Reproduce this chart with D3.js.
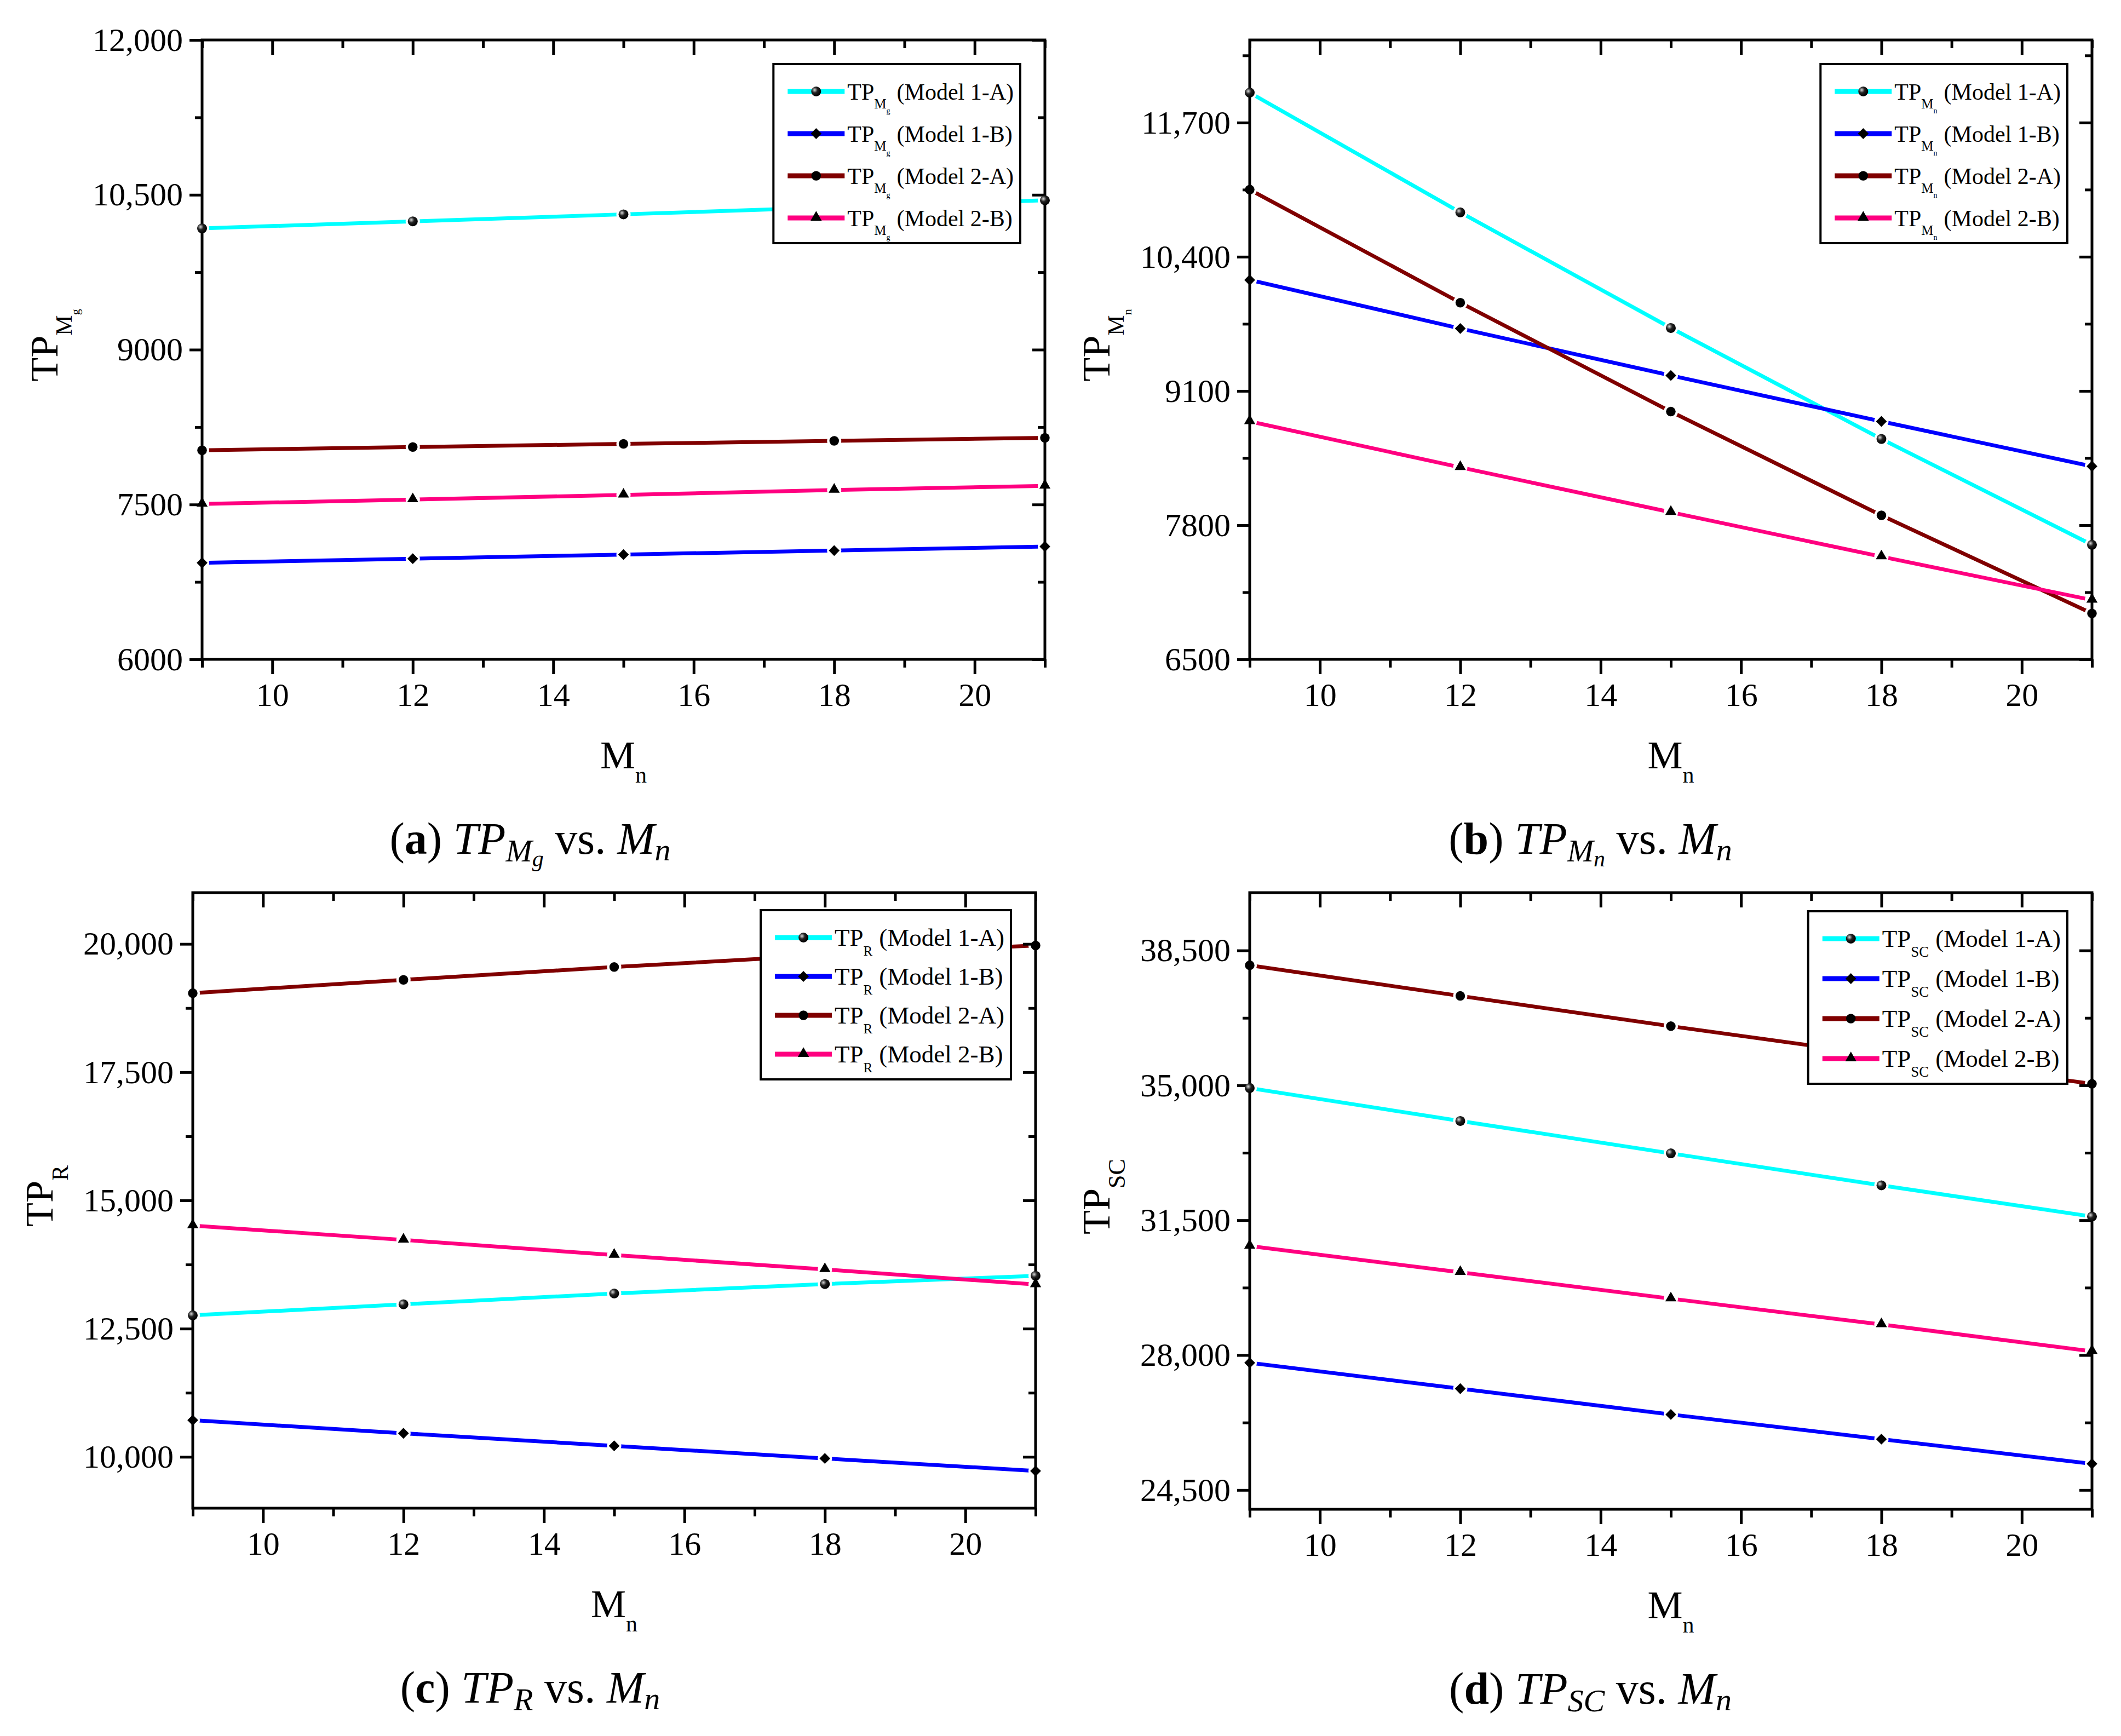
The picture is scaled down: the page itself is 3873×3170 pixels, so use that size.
<!DOCTYPE html>
<html>
<head>
<meta charset="utf-8">
<script src="https://cdn.jsdelivr.net/npm/d3@7"></script>
<style>
  body { margin: 0; background: #fff; }
  text { font-family: "Liberation Serif", "Times New Roman", serif; fill: #000; }
</style>
</head>
<body>
<div id="chart"></div>
<script>
// x values (M_n)
var mn = [9, 12, 15, 18, 21];
var models = ['Model 1-A', 'Model 1-B', 'Model 2-A', 'Model 2-B'];
var colors = ['#00ffff', '#0000ff', '#800000', '#ff0080'];
var markerTypes = ['sphere', 'diamond', 'circle', 'triangle'];

// (a) TP_Mg
var tpMg1A = [10175, 10243, 10311, 10379, 10447];
var tpMg1B = [6935, 6975, 7015, 7054, 7093];
var tpMg2A = [8025, 8057, 8087, 8117, 8146];
var tpMg2B = [7505, 7548, 7593, 7640, 7680];
var tpMgTicks = [6000, 7500, 9000, 10500, 12000];

// (b) TP_Mn
var tpMn1A = [11990, 10830, 9710, 8635, 7610];
var tpMn1B = [10175, 9705, 9250, 8805, 8370];
var tpMn2A = [11050, 9955, 8900, 7895, 6945];
var tpMn2B = [8805, 8360, 7925, 7495, 7075];
var tpMnTicks = [6500, 7800, 9100, 10400, 11700];

// (c) TP_R
var tpR1A = [12760, 12975, 13185, 13370, 13530];
var tpR1B = [10715, 10460, 10215, 9970, 9725];
var tpR2A = [19040, 19300, 19550, 19780, 19970];
var tpR2B = [14510, 14230, 13935, 13655, 13360];
var tpRTicks = [10000, 12500, 15000, 17500, 20000];

// (d) TP_SC
var tpSC1A = [34930, 34075, 33235, 32405, 31595];
var tpSC1B = [27800, 27130, 26460, 25820, 25180];
var tpSC2A = [38115, 37320, 36535, 35780, 35040];
var tpSC2B = [30830, 30150, 29465, 28795, 28100];
var tpSCTicks = [24500, 28000, 31500, 35000, 38500];

var xMajor = [10, 12, 14, 16, 18, 20];
var xMinor = [9, 11, 13, 15, 17, 19, 21];

var width = 3873,
    height = 3170;

var panels = [
    { tag: 'a', subs: ['M', 'g'], series: [tpMg1A, tpMg1B, tpMg2A, tpMg2B], domain: [6000, 12000], ticks: tpMgTicks,
      left: 369, top: 73, right: 1908, bottom: 1204, col: 968, titleDx: -264, legTop: 44, rowStep: 77, legFont: 42 },
    { tag: 'b', subs: ['M', 'n'], series: [tpMn1A, tpMn1B, tpMn2A, tpMn2B], domain: [6500, 12500], ticks: tpMnTicks,
      left: 2282, top: 73, right: 3820, bottom: 1204, col: 2904, titleDx: -256, legTop: 44, rowStep: 77, legFont: 42 },
    { tag: 'c', subs: ['R'], series: [tpR1A, tpR1B, tpR2A, tpR2B], domain: [9000, 21000], ticks: tpRTicks,
      left: 352, top: 1630, right: 1891, bottom: 2754, col: 968, titleDx: -256, legTop: 32, rowStep: 71, legFont: 45 },
    { tag: 'd', subs: ['SC'], series: [tpSC1A, tpSC1B, tpSC2A, tpSC2B], domain: [24000, 40000], ticks: tpSCTicks,
      left: 2282, top: 1630, right: 3820, bottom: 2756, col: 2904, titleDx: -256, legTop: 34, rowStep: 73, legFont: 45 }
];

var svg = d3.select('#chart')
    .append('svg')
    .attr('width', width)
    .attr('height', height);

var defs = svg.append('defs');
var grad = defs.append('radialGradient')
    .attr('id', 'sphere')
    .attr('cx', '35%').attr('cy', '35%').attr('r', '65%');
grad.append('stop').attr('offset', '0%').attr('stop-color', '#d8d8d8');
grad.append('stop').attr('offset', '45%').attr('stop-color', '#222');
grad.append('stop').attr('offset', '100%').attr('stop-color', '#000');

var fmt = function (v) {
    return v >= 10000 ? d3.format(',')(v) : String(v);
};

var drawMarker = function (g, type, cx, cy) {
    if (type === 'sphere') {
        g.append('circle').attr('cx', cx).attr('cy', cy).attr('r', 9).attr('fill', 'url(#sphere)');
        return;
    }
    var sym = type === 'diamond' ? d3.symbolDiamond2 : type === 'triangle' ? d3.symbolTriangle : d3.symbolCircle;
    var size = type === 'diamond' ? 250 : type === 'triangle' ? 180 : 240;
    g.append('path')
        .attr('d', d3.symbol().type(sym).size(size)())
        .attr('transform', 'translate(' + cx + ',' + (type === 'triangle' ? cy - 1 : cy) + ')')
        .attr('fill', '#000');
};

// appends TP with nested subscripts to a text element
var tpText = function (t, subs, sizes, shifts) {
    t.append('tspan').text('TP');
    var total = 0;
    subs.forEach(function (s, i) {
        total += shifts[i];
        t.append('tspan').attr('font-size', sizes[i]).attr('dy', shifts[i]).text(s);
    });
    return total;
};

var drawPanel = function (p) {
    var g = svg.append('g');

    var x = d3.scaleLinear().domain([9, 21]).range([p.left, p.right]);
    var y = d3.scaleLinear().domain(p.domain).range([p.bottom, p.top]);

    var line = d3.line()
        .x(function (d, i) { return x(mn[i]); })
        .y(function (d) { return y(d); });

    // lines with small gaps around the markers
    p.series.forEach(function (vals, k) {
        g.append('path')
            .datum(vals)
            .attr('d', line)
            .attr('fill', 'none')
            .attr('stroke', colors[k])
            .attr('stroke-width', 7);
        g.selectAll(null)
            .data(vals)
            .enter()
            .append('circle')
            .attr('cx', function (d, i) { return x(mn[i]); })
            .attr('cy', function (d) { return y(d); })
            .attr('r', 13)
            .attr('fill', '#fff');
    });

    // axes
    var step = p.ticks[1] - p.ticks[0];
    var yMinor = d3.range(p.ticks[0] - step / 2, p.domain[1] + 1, step)
        .filter(function (v) { return v >= p.domain[0] && v <= p.domain[1]; });

    var styleAxis = function (sel) {
        sel.select('.domain').remove();
        sel.selectAll('line').attr('stroke', '#000').attr('stroke-width', 5);
        sel.selectAll('text').attr('font-size', 60).attr('fill', '#000')
            .attr('font-family', '"Liberation Serif", "Times New Roman", serif');
    };

    g.append('g').attr('transform', 'translate(0,' + p.bottom + ')')
        .call(d3.axisBottom(x).tickValues(xMajor).tickSize(27).tickPadding(15).tickFormat(d3.format('d')))
        .call(styleAxis);
    g.append('g').attr('transform', 'translate(0,' + p.bottom + ')')
        .call(d3.axisBottom(x).tickValues(xMinor).tickSize(15).tickFormat(''))
        .call(styleAxis);
    g.append('g').attr('transform', 'translate(0,' + p.top + ')')
        .call(d3.axisTop(x).tickValues(xMajor).tickSize(-27).tickFormat(''))
        .call(styleAxis);
    g.append('g').attr('transform', 'translate(0,' + p.top + ')')
        .call(d3.axisTop(x).tickValues(xMinor).tickSize(-15).tickFormat(''))
        .call(styleAxis);

    g.append('g').attr('transform', 'translate(' + p.left + ',0)')
        .call(d3.axisLeft(y).tickValues(p.ticks).tickSize(23).tickPadding(12).tickFormat(fmt))
        .call(styleAxis);
    g.append('g').attr('transform', 'translate(' + p.left + ',0)')
        .call(d3.axisLeft(y).tickValues(yMinor).tickSize(13).tickFormat(''))
        .call(styleAxis);
    g.append('g').attr('transform', 'translate(' + p.right + ',0)')
        .call(d3.axisRight(y).tickValues(p.ticks).tickSize(-23).tickFormat(''))
        .call(styleAxis);
    g.append('g').attr('transform', 'translate(' + p.right + ',0)')
        .call(d3.axisRight(y).tickValues(yMinor).tickSize(-13).tickFormat(''))
        .call(styleAxis);

    g.append('rect')
        .attr('x', p.left).attr('y', p.top)
        .attr('width', p.right - p.left).attr('height', p.bottom - p.top)
        .attr('fill', 'none').attr('stroke', '#000').attr('stroke-width', 5);

    // markers
    p.series.forEach(function (vals, k) {
        vals.forEach(function (v, i) {
            drawMarker(g, markerTypes[k], x(mn[i]), y(v));
        });
    });

    // legend
    var lg = g.append('g');
    var box = lg.append('rect').attr('fill', '#fff').attr('stroke', '#000').attr('stroke-width', 4);
    var rows = lg.append('g');
    var subSizes = p.subs.length === 2 ? [25, 14] : [p.subs[0] === 'SC' ? 27 : 25];
    var subShifts = p.subs.length === 2 ? [16, 9] : [18];
    models.forEach(function (m, i) {
        var yy = i * p.rowStep;
        rows.append('line')
            .attr('x1', 0).attr('x2', 104).attr('y1', yy).attr('y2', yy)
            .attr('stroke', colors[i]).attr('stroke-width', 9);
        drawMarker(rows, markerTypes[i], 52, yy);
        var t = rows.append('text').attr('x', 109).attr('y', yy + 15).attr('font-size', p.legFont);
        var shift = tpText(t, p.subs, subSizes, subShifts);
        t.append('tspan').attr('dx', 12).attr('dy', -shift).text('(' + m + ')');
    });
    var bb = rows.node().getBBox();
    var bw = 26 + bb.x + bb.width + 12;
    var bh = 50 + 3 * p.rowStep + 46;
    box.attr('x', -26).attr('y', -50).attr('width', bw).attr('height', bh);
    lg.attr('transform', 'translate(' + (p.right - 45 - bw + 26) + ',' + (p.top + p.legTop + 50) + ')');

    // y title
    var cy = (p.top + p.bottom) / 2;
    var yt = g.append('text')
        .attr('transform', 'translate(' + (p.left + p.titleDx) + ',' + (cy - 8) + ') rotate(-90)')
        .attr('text-anchor', 'middle')
        .attr('font-size', 72);
    tpText(yt, p.subs, p.subs.length === 2 ? [42, 22] : [p.subs[0] === 'SC' ? 44 : 42], p.subs.length === 2 ? [26, 14] : [28]);

    // x title
    var xt = g.append('text')
        .attr('x', (p.left + p.right) / 2)
        .attr('y', p.bottom + 199)
        .attr('text-anchor', 'middle')
        .attr('font-size', 72);
    xt.append('tspan').text('M');
    xt.append('tspan').attr('font-size', 42).attr('dy', 26).text('n');

    // caption
    var cap = g.append('text')
        .attr('x', p.col)
        .attr('y', p.bottom + 355)
        .attr('text-anchor', 'middle')
        .attr('font-size', 82);
    cap.append('tspan').text('(');
    cap.append('tspan').attr('font-weight', 'bold').text(p.tag);
    cap.append('tspan').text(') ');
    cap.append('tspan').attr('font-style', 'italic').text('TP');
    var back = 0;
    if (p.subs.length === 2) {
        cap.append('tspan').attr('font-style', 'italic').attr('font-size', 58).attr('dy', 14).text(p.subs[0]);
        cap.append('tspan').attr('font-style', 'italic').attr('font-size', 42).attr('dy', 9).text(p.subs[1]);
        back = 23;
    } else {
        cap.append('tspan').attr('font-style', 'italic').attr('font-size', 58).attr('dy', 14).text(p.subs[0]);
        back = 14;
    }
    cap.append('tspan').attr('dy', -back).text(' vs. ');
    cap.append('tspan').attr('font-style', 'italic').text('M');
    cap.append('tspan').attr('font-style', 'italic').attr('font-size', 58).attr('dy', 12).text('n');
};

panels.forEach(drawPanel);
</script>
</body>
</html>
